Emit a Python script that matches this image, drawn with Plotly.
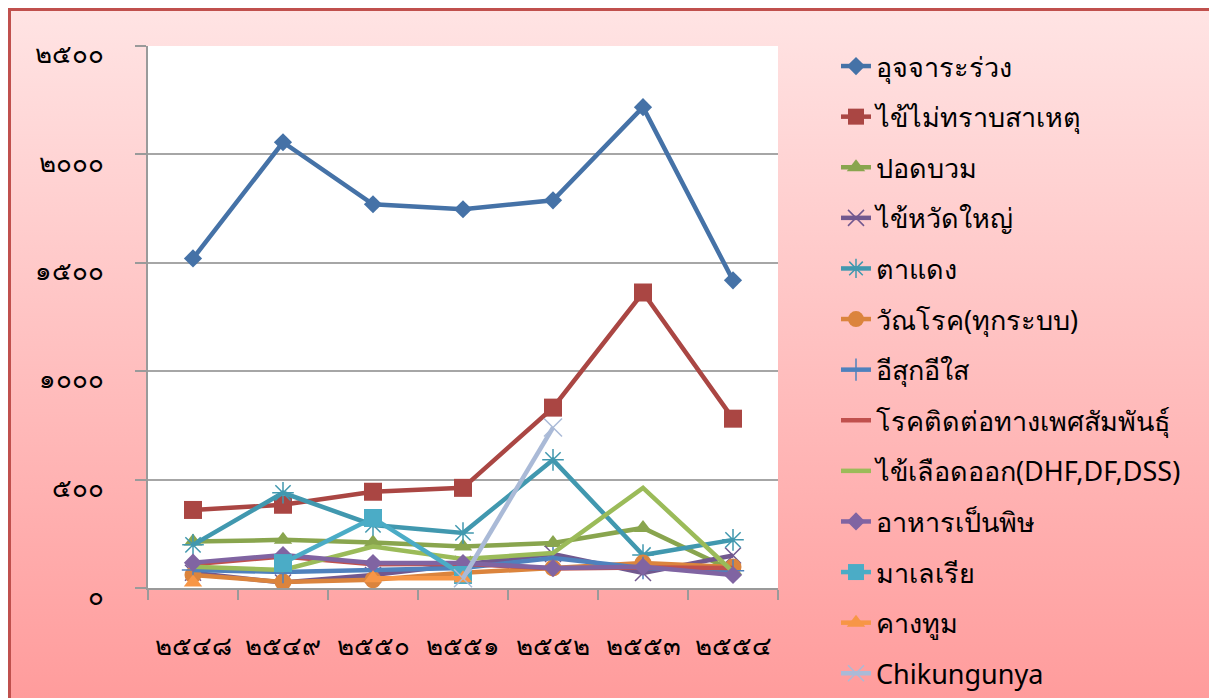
import base64
import plotly.graph_objects as go

# ---------------- data ----------------
years = ['๒๕๔๘', '๒๕๔๙', '๒๕๕๐', '๒๕๕๑', '๒๕๕๒', '๒๕๕๓', '๒๕๕๔']
y_tickvals = [0, 500, 1000, 1500, 2000, 2500]
y_ticktext = ['๐', '๕๐๐', '๑๐๐๐', '๑๕๐๐', '๒๐๐๐', '๒๕๐๐']

names = ['อุจจาระร่วง', 'ไข้ไม่ทราบสาเหตุ', 'ปอดบวม', 'ไข้หวัดใหญ่', 'ตาแดง',
         'วัณโรค(ทุกระบบ)', 'อีสุกอีใส', 'โรคติดต่อทางเพศสัมพันธุ์',
         'ไข้เลือดออก(DHF,DF,DSS)', 'อาหารเป็นพิษ', 'มาเลเรีย', 'คางทูม', 'Chikungunya']

diarrhea = [1520, 2056, 1770, 1747, 1788, 2218, 1419]
fever_unknown = [360, 384, 444, 462, 832, 1363, 781]
pneumonia = [214, 222, 210, 191, 208, 277, 80]
influenza = [70, 25, 60, 110, 157, 69, 150]
conjunctivitis = [199, 439, 291, 254, 591, 152, 222]
tuberculosis = [60, 28, 38, 70, 92, 115, 97]
chickenpox = [83, 74, 83, 92, 138, 92, 80]
std = [110, 145, 110, 112, 90, 95, 92]
dhf = [98, 83, 191, 134, 161, 462, 75]
food_poisoning = [117, 152, 115, 115, 92, 98, 60]
malaria = [None, 115, 323, 60, None, None, None]
mumps = [25, None, 45, 45, None, None, None]
chikungunya = [None, None, None, 45, 740, None, None]

series = [diarrhea, fever_unknown, pneumonia, influenza, conjunctivitis, tuberculosis,
          chickenpox, std, dhf, food_poisoning, malaria, mumps, chikungunya]

# ---------------- styles ----------------
colors = ['#4572A7', '#AA4643', '#89A54E', '#71588F', '#4198AF', '#DB843D',
          '#4F81BD', '#C0504D', '#9BBB59', '#8064A2', '#4BACC6', '#F79646', '#AABAD7']
symbols = ['diamond', 'square', 'triangle-up', 'x-thin-open', 'asterisk-open', 'circle',
           'cross-thin-open', None, None, 'diamond', 'square', 'triangle-up', 'x-thin-open']
sizes = [14, 18, 16, 16, 18, 17, 16, 0, 0, 14, 18, 16, 18]

FONT = 'Noto Sans, DejaVu Sans, sans-serif'

fig = go.Figure()
for i, (nm, vals) in enumerate(zip(names, series)):
    sym = symbols[i]
    if sym is None:
        mode = 'lines'
        marker = None
    else:
        mode = 'lines+markers'
        if sym.endswith('-open'):
            marker = dict(symbol=sym, size=sizes[i], color=colors[i],
                          line=dict(color=colors[i], width=1.5))
        else:
            marker = dict(symbol=sym, size=sizes[i], color=colors[i], line=dict(width=0))
    fig.add_trace(go.Scatter(
        x=years, y=vals, name=nm, mode=mode,
        line=dict(color=colors[i], width=4.5),
        marker=marker, legendgroup=f'g{i}', connectgaps=False,
    ))

# ---------------- layout geometry (figure coords; page offset 8px) ----------------
W, H = 1209, 690
L, R, T, B = 140, 439, 38, 110
pw, ph = W - L - R, H - T - B

svg = (f"<svg xmlns='http://www.w3.org/2000/svg' width='{W}' height='{H}' preserveAspectRatio='none'>"
       "<defs><linearGradient id='g' x1='0' y1='0' x2='0' y2='1'>"
       "<stop offset='0' stop-color='#FFE4E4'/>"
       "<stop offset='1' stop-color='#FF9C9C'/>"
       "</linearGradient></defs>"
       f"<rect width='{W}' height='{H}' fill='url(#g)'/></svg>")
src = 'data:image/svg+xml;base64,' + base64.b64encode(svg.encode()).decode()

def px_x(px):
    return (px - L) / pw

def px_y(py):
    return 1 - (py - T) / ph

fig.update_layout(
    width=W, height=H,
    margin=dict(l=L, r=R, t=T, b=B, pad=0),
    paper_bgcolor='#FFC8C8',
    plot_bgcolor='white',
    font=dict(family=FONT, color='black'),
    images=[dict(source=src, xref='paper', yref='paper', x=px_x(0), y=px_y(0),
                 sizex=W / pw, sizey=H / ph, xanchor='left', yanchor='top',
                 sizing='stretch', layer='below')],
    shapes=[
        dict(type='rect', xref='paper', yref='paper', x0=0, x1=1, y0=0, y1=1,
             fillcolor='white', line=dict(width=0), layer='below'),
        dict(type='rect', xref='paper', yref='paper', x0=px_x(1.5), x1=px_x(1230),
             y0=px_y(720), y1=px_y(1.5), fillcolor='rgba(0,0,0,0)',
             line=dict(color='#C0504D', width=3), layer='above'),
    ],
    showlegend=True,
    legend=dict(x=px_x(828), xanchor='left', y=px_y(36), yanchor='top',
                font=dict(size=27, family=FONT, color='black'),
                bgcolor='rgba(0,0,0,0)', tracegroupgap=12.5, itemwidth=30,
                traceorder='grouped', maxheight=2000),
    xaxis=dict(type='category', range=[-0.5, 6.5], showgrid=False,
               showline=True, linecolor='#9A9A9A', linewidth=1.5,
               ticks='outside', tickson='boundaries', ticklen=10, tickcolor='#9A9A9A',
               tickwidth=1.5, ticklabelstandoff=34,
               tickfont=dict(size=26, family=FONT, color='black'), zeroline=False),
    yaxis=dict(range=[0, 2500], tickvals=y_tickvals, ticktext=y_ticktext,
               showgrid=True, gridcolor='#A6A6A6', gridwidth=1.5,
               showline=True, linecolor='#9A9A9A', linewidth=1.5,
               ticks='outside', ticklen=11, tickcolor='#9A9A9A', tickwidth=1.5,
               ticklabelstandoff=26, ticklabelshift=8,
               tickfont=dict(size=26, family=FONT, color='black'), zeroline=False),
)

fig.write_html('out.html')
